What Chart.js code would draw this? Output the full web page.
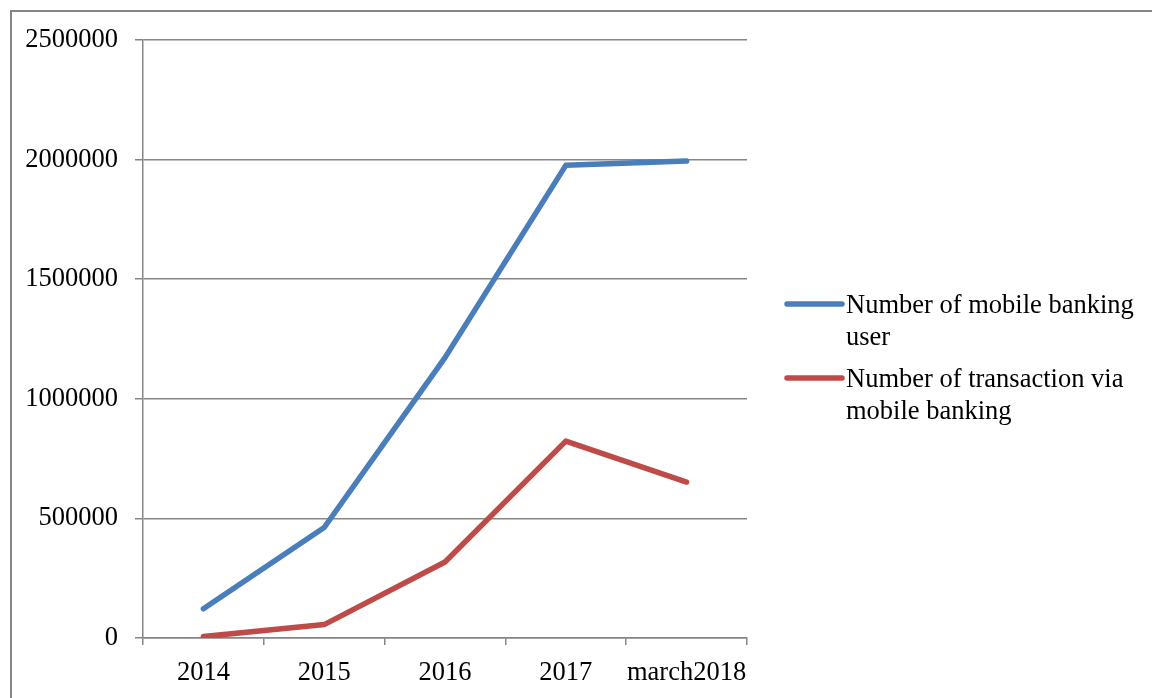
<!DOCTYPE html>
<html>
<head>
<meta charset="utf-8">
<script src="https://cdn.jsdelivr.net/npm/chart.js@4/dist/chart.umd.min.js"></script>
<style>
  html, body { margin: 0; padding: 0; background: #fff; }
  #wrap { width: 1152px; height: 698px; position: relative; }
</style>
</head>
<body>
<div id="wrap"><canvas id="bankingChart" width="1152" height="698"></canvas></div>
<script>
// Categories and series values
const years = ['2014', '2015', '2016', '2017', 'march2018'];
const mobileUsers = [122000, 462000, 1172000, 1976000, 1994000];
const transactions = [6000, 56000, 318000, 823000, 652000];
const seriesNames = [
    ['Number of mobile banking', 'user'],
    ['Number of transaction via', 'mobile banking']
];
const yTicks = [0, 500000, 1000000, 1500000, 2000000, 2500000];

const FONT = '"Liberation Serif", "Times New Roman", serif';
const AXIS_GREY = '#868686';
const LINE_W = 5.5;

// Outer frame around the whole chart object
const framePlugin = {
    id: 'frame',
    beforeDraw(chart) {
        const ctx = chart.ctx;
        ctx.save();
        ctx.strokeStyle = AXIS_GREY;
        ctx.lineWidth = 2;
        ctx.strokeRect(11, 11, 1200, 800);
        ctx.restore();
    }
};

// Legend on the right with wrapped labels
const wrappedLegend = {
    id: 'wrappedLegend',
    afterDraw(chart) {
        const ctx = chart.ctx;
        const lineX0 = 787, lineX1 = 842, textX = 846;
        const startY = [304, 378];
        const lineHeight = 32;
        ctx.save();
        ctx.font = '26.5px ' + FONT;
        ctx.textBaseline = 'middle';
        ctx.fillStyle = '#000';
        chart.data.datasets.forEach((ds, i) => {
            const y = startY[i];
            ctx.strokeStyle = ds.borderColor;
            ctx.lineWidth = LINE_W;
            ctx.lineCap = 'round';
            ctx.beginPath();
            ctx.moveTo(lineX0, y);
            ctx.lineTo(lineX1, y);
            ctx.stroke();
            seriesNames[i].forEach((txt, k) => {
                ctx.fillText(txt, textX, y + 2 + k * lineHeight);
            });
        });
        ctx.restore();
    }
};

new Chart(document.getElementById('bankingChart'), {
    type: 'line',
    data: {
        labels: years,
        datasets: [
            {
                label: seriesNames[0].join(' '),
                data: mobileUsers,
                borderColor: '#4a7ebb',
                borderWidth: LINE_W,
                pointRadius: 0,
                tension: 0,
                borderCapStyle: 'round',
                borderJoinStyle: 'round'
            },
            {
                label: seriesNames[1].join(' '),
                data: transactions,
                borderColor: '#be4b48',
                borderWidth: LINE_W,
                pointRadius: 0,
                tension: 0,
                borderCapStyle: 'round',
                borderJoinStyle: 'round'
            }
        ]
    },
    options: {
        responsive: false,
        animation: false,
        layout: {
            padding: { top: 40, right: 405, bottom: 0, left: 0 }
        },
        plugins: {
            legend: { display: false },
            tooltip: { enabled: false }
        },
        scales: {
            x: {
                offset: true,
                grid: {
                    offset: true,
                    drawOnChartArea: false,
                    color: AXIS_GREY,
                    lineWidth: 1.5,
                    tickLength: 7
                },
                border: { color: AXIS_GREY, width: 1.5 },
                ticks: {
                    color: '#000',
                    font: { family: FONT, size: 26.5 },
                    padding: 12,
                    maxRotation: 0,
                    autoSkip: false
                },
                afterFit: function (scale) {
                    scale.height = 60;
                }
            },
            y: {
                min: 0,
                max: 2500000,
                afterBuildTicks: function (scale) {
                    scale.ticks = yTicks.map(v => ({ value: v }));
                },
                grid: {
                    color: AXIS_GREY,
                    lineWidth: 1.5,
                    tickLength: 8
                },
                border: { color: AXIS_GREY, width: 1.5 },
                ticks: {
                    color: '#000',
                    font: { family: FONT, size: 26.5 },
                    padding: 17,
                    callback: v => String(v)
                },
                afterFit: function (scale) {
                    scale.width = 143;
                }
            }
        }
    },
    plugins: [framePlugin, wrappedLegend]
});
</script>
</body>
</html>
